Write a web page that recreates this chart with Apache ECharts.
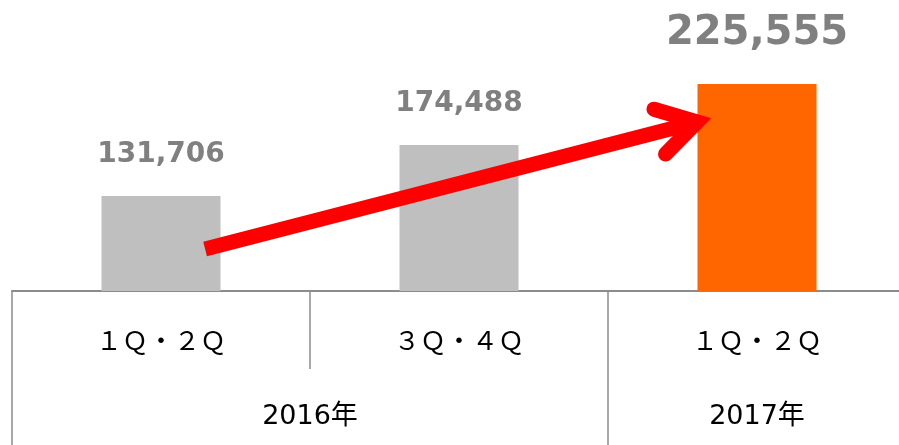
<!DOCTYPE html>
<html>
<head>
<meta charset="utf-8">
<script src="https://cdn.jsdelivr.net/npm/echarts@6/dist/echarts.min.js"></script>
<style>
html,body{margin:0;padding:0;background:#fff;}
#c{width:899px;height:445px;}
</style>
</head>
<body>
<div id="c"></div>
<script>
// ---- data ----
var categories = ['１Ｑ・２Ｑ', '３Ｑ・４Ｑ', '１Ｑ・２Ｑ'];
var values = [131706, 174488, 225555];
var years = ['2016年', '2017年'];
var yearSpans = [[0, 2], [2, 3]];          // category-index spans of each year
var arrowFrom = [0.648, 87218];             // [category position, value]
var arrowTo = [2.299, 193707];

// ---- styles ----
var barColors = ['#bfbfbf', '#bfbfbf', '#ff6600'];
var labelSizes = [28, 28, 40];
var labelDist = [27, 27, 30];
var gridLine = '#8c8c8c';

var chart = echarts.init(document.getElementById('c'), null, {renderer: 'canvas'});

var yearMids = yearSpans.map(function (s) { return (s[0] + s[1]) / 2; });
var yearBounds = [];
yearSpans.forEach(function (s) {
  if (yearBounds.indexOf(s[0]) < 0) yearBounds.push(s[0]);
  if (yearBounds.indexOf(s[1]) < 0) yearBounds.push(s[1]);
});

var option = {
  animation: false,
  backgroundColor: '#ffffff',
  grid: {left: 12, width: 894, top: 0, height: 291, containLabel: false, outerBoundsMode: 'none'},
  xAxis: [
    {
      type: 'category',
      data: categories,
      position: 'bottom',
      axisLine: {show: true, lineStyle: {color: gridLine, width: 2}},
      axisTick: {show: true, length: 78, lineStyle: {color: gridLine, width: 1.5}},
      axisLabel: {
        margin: 36,
        color: '#000000',
        fontSize: 26,
        fontFamily: '"Noto Sans CJK JP", sans-serif'
      },
      splitLine: {show: false}
    },
    {
      type: 'value',
      min: 0,
      max: categories.length,
      position: 'bottom',
      axisLine: {show: false, onZero: false},
      axisTick: {show: true, length: 154, customValues: yearBounds, lineStyle: {color: gridLine, width: 1.5}},
      axisLabel: {
        show: true,
        customValues: yearMids,
        margin: 112,
        color: '#000000',
        fontSize: 27,
        fontFamily: '"DejaVu Sans", "Noto Sans CJK JP", sans-serif',
        formatter: function (v) {
          var i = yearMids.indexOf(v);
          return i >= 0 ? years[i] : '';
        }
      },
      splitLine: {show: false}
    }
  ],
  yAxis: {
    type: 'value',
    min: 52000,
    max: 296000,
    show: false,
    splitLine: {show: false}
  },
  series: [
    {
      type: 'bar',
      xAxisIndex: 0,
      barWidth: 119,
      data: values.map(function (v, i) {
        return {
          value: v,
          itemStyle: {color: barColors[i]},
          label: {fontSize: labelSizes[i], distance: labelDist[i]}
        };
      }),
      label: {
        show: true,
        position: 'top',
        color: '#808080',
        fontWeight: 'bold',
        fontFamily: '"DejaVu Sans", sans-serif',
        formatter: function (p) { return p.value.toLocaleString('en-US'); }
      },
      z: 2
    },
    {
      type: 'custom',
      xAxisIndex: 1,
      yAxisIndex: 0,
      clip: false,
      z: 5,
      data: [[arrowFrom[0], arrowFrom[1], arrowTo[0], arrowTo[1]]],
      encode: {x: [0, 2], y: [1, 3]},
      renderItem: function (params, api) {
        var p0 = api.coord([api.value(0), api.value(1)]);
        var p1 = api.coord([api.value(2), api.value(3)]);
        var dx = p1[0] - p0[0], dy = p1[1] - p0[1];
        var len = Math.sqrt(dx * dx + dy * dy);
        var ux = dx / len, uy = dy / len;
        var L = 45, a = 31 * Math.PI / 180;
        function arm(sign) {
          var bx = -ux, by = -uy, c = Math.cos(a), s = Math.sin(a) * sign;
          return [p1[0] + L * (bx * c - by * s), p1[1] + L * (bx * s + by * c)];
        }
        return {
          type: 'group',
          children: [
            {type: 'line', shape: {x1: p0[0], y1: p0[1], x2: p1[0], y2: p1[1]},
             style: {stroke: '#ff0000', lineWidth: 15, lineCap: 'butt'}},
            {type: 'polyline', shape: {points: [arm(1), p1, arm(-1)]},
             style: {stroke: '#ff0000', fill: null, lineWidth: 15, lineCap: 'round', lineJoin: 'miter', miterLimit: 10}}
          ]
        };
      }
    }
  ]
};
chart.setOption(option);
</script>
</body>
</html>
